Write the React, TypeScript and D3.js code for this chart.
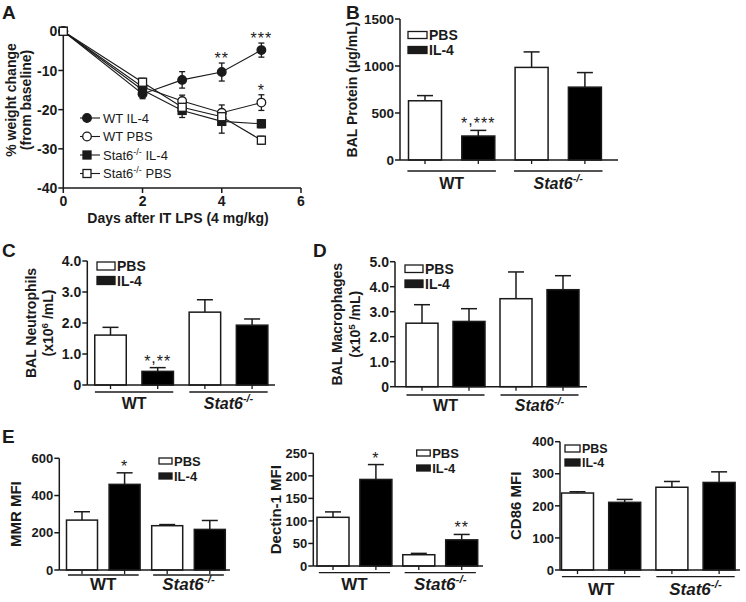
import React from "react";
import * as d3 from "d3";

const FONT = "'Liberation Sans', Arial, Helvetica, sans-serif";
const INK = "#1a1a1a";

// ---------- Panel A data ----------
const days = [0, 2, 3, 4, 5];
const wtIL4 = [0, -16, -12.4, -10.4, -4.8];
const wtIL4Err = [0, 1.2, 2.1, 2.3, 1.8];
const wtPBS = [0, -14.2, -17.8, -20.8, -18.2];
const wtPBSErr = [0, 1.0, 1.5, 2.0, 2.0];
const stat6IL4 = [0, -15, -20.2, -23, -23.6];
const stat6IL4Err = [0, 1.3, 1.8, 3.0, 1.0];
const stat6PBS = [0, -13, -19.4, -21.8, -27.8];
const stat6PBSErr = [0, 1.0, 1.5, 1.5, 1.0];
const wtIL4Stars = ["", "", "", "**", "***"];
const wtPBSStars = ["", "", "", "", "*"];
const weightTicks = [0, -10, -20, -30, -40];
const dayTicks = [0, 2, 4, 6];

// ---------- Bar panels data (WT-PBS, WT-IL-4, Stat6-PBS, Stat6-IL-4) ----------
const barKeys = ["WT-PBS", "WT-IL-4", "Stat6-PBS", "Stat6-IL-4"];
const barFills = ["white", "black", "white", "black"];
const groups = ["WT", "Stat6"];
const treatments = ["PBS", "IL-4"];

const proteinMean = [630, 255, 985, 775];
const proteinErr = [55, 60, 165, 155];
const proteinStars = ["", "*,***", "", ""];
const proteinTicks = [0, 500, 1000, 1500];
const proteinTickLabels = ["0", "500", "1000", "1500"];

const neutroMean = [1.61, 0.44, 2.35, 1.93];
const neutroErr = [0.25, 0.12, 0.4, 0.2];
const neutroStars = ["", "*,**", "", ""];
const neutroTicks = [0, 1, 2, 3, 4];
const neutroTickLabels = ["0", "1.0", "2.0", "3.0", "4.0"];

const macroMean = [2.54, 2.61, 3.52, 3.88];
const macroErr = [0.74, 0.51, 1.07, 0.56];
const macroStars = ["", "", "", ""];
const macroTicks = [0, 1, 2, 3, 4, 5];
const macroTickLabels = ["0", "1.0", "2.0", "3.0", "4.0", "5.0"];

const mmrMean = [268, 460, 238, 218];
const mmrErr = [45, 62, 6, 48];
const mmrStars = ["", "*", "", ""];
const mmrTicks = [0, 200, 400, 600];
const mmrTickLabels = ["0", "200", "400", "600"];

const dectinMean = [108, 192, 25, 58];
const dectinErr = [12, 33, 3, 12];
const dectinStars = ["", "*", "", "**"];
const dectinTicks = [0, 50, 100, 150, 200, 250];
const dectinTickLabels = ["0", "50", "100", "150", "200", "250"];

const cd86Mean = [240, 211, 258, 273];
const cd86Err = [4, 9, 18, 33];
const cd86Stars = ["", "", "", ""];
const cd86Ticks = [0, 100, 200, 300, 400];
const cd86TickLabels = ["0", "100", "200", "300", "400"];

const STAR_FS = 16;

function StarText({ x, y, text }: any) {
  const parts = String(text).split(",");
  return (
    <text x={x} y={y} fontSize={STAR_FS} letterSpacing={1} textAnchor="middle" fill={INK}>
      {parts.map((pt, i) =>
        i === 0 ? (
          <tspan key={i}>{pt}</tspan>
        ) : (
          <React.Fragment key={i}>
            <tspan dy={-4}>,</tspan>
            <tspan dy={4}>{pt}</tspan>
          </React.Fragment>
        )
      )}
    </text>
  );
}

function Stat6Label({ x, y, size, supSize }: any) {
  return (
    <text x={x} y={y} fontSize={size} fontWeight="bold" fontStyle="italic" textAnchor="middle" fill={INK}>
      Stat6
      <tspan dy={-size * 0.4} fontSize={supSize}>-/-</tspan>
    </text>
  );
}

function PanelA() {
  const x = d3.scaleLinear().domain([0, 6]).range([63.3, 301]);
  const y = d3.scaleLinear().domain([-40, 0]).range([188, 31.3]);
  const series = [
    { name: "WT IL-4", values: wtIL4, errs: wtIL4Err, shape: "circle", filled: true, stars: wtIL4Stars },
    { name: "WT PBS", values: wtPBS, errs: wtPBSErr, shape: "circle", filled: false, stars: wtPBSStars },
    { name: "IL-4", values: stat6IL4, errs: stat6IL4Err, shape: "square", filled: true, stars: null, stat6: true },
    { name: "PBS", values: stat6PBS, errs: stat6PBSErr, shape: "square", filled: false, stars: null, stat6: true },
  ];
  const line = d3.line<number>().x((_, i) => x(days[i])).y((d) => y(d));
  const marker = (shape: string, filled: boolean, cx: number, cy: number, key: any) =>
    shape === "circle" ? (
      <circle key={key} cx={cx} cy={cy} r={4.3} fill={filled ? INK : "white"} stroke={INK} strokeWidth={1.3} />
    ) : (
      <rect key={key} x={cx - 4} y={cy - 4} width={8} height={8} fill={filled ? INK : "white"} stroke={INK} strokeWidth={1.3} />
    );
  const [y0, y1] = y.range();
  const [x0, x1] = x.range();
  return (
    <g>
      <text x={2} y={19} fontSize={19} fontWeight="bold" fill={INK}>A</text>
      <line x1={x0} x2={x0} y1={y1} y2={y0} stroke={INK} strokeWidth={1.5} />
      <line x1={x0} x2={x1} y1={y0} y2={y0} stroke={INK} strokeWidth={1.5} />
      {weightTicks.map((t) => (
        <g key={"yt" + t}>
          <line x1={x0 - 5} x2={x0} y1={y(t)} y2={y(t)} stroke={INK} strokeWidth={1.5} />
          <text x={x0 - 6} y={y(t)} dy="0.36em" fontSize={14} fontWeight="bold" textAnchor="end" fill={INK}>{t}</text>
        </g>
      ))}
      {dayTicks.map((t) => (
        <g key={"xt" + t}>
          <line x1={x(t)} x2={x(t)} y1={y0} y2={y0 + 5} stroke={INK} strokeWidth={1.5} />
          <text x={x(t)} y={y0 + 18} fontSize={14} fontWeight="bold" textAnchor="middle" fill={INK}>{t}</text>
        </g>
      ))}
      <text x={178} y={223} fontSize={14} fontWeight="bold" textAnchor="middle" fill={INK}>Days after IT LPS (4 mg/kg)</text>
      <text transform="translate(16,100) rotate(-90)" fontSize={14} fontWeight="bold" textAnchor="middle" fill={INK}>% weight change</text>
      <text transform="translate(31,100) rotate(-90)" fontSize={14} fontWeight="bold" textAnchor="middle" fill={INK}>(from baseline)</text>
      {series.map((s, si) => (
        <path key={"l" + si} d={line(s.values) || ""} fill="none" stroke={INK} strokeWidth={1.1} />
      ))}
      {series.map((s, si) =>
        s.values.map((v, i) =>
          s.errs[i] > 0 ? (
            <g key={"e" + si + "-" + i} stroke={INK} strokeWidth={1.3}>
              <line x1={x(days[i])} x2={x(days[i])} y1={y(v - s.errs[i])} y2={y(v + s.errs[i])} />
              <line x1={x(days[i]) - 3} x2={x(days[i]) + 3} y1={y(v - s.errs[i])} y2={y(v - s.errs[i])} />
              <line x1={x(days[i]) - 3} x2={x(days[i]) + 3} y1={y(v + s.errs[i])} y2={y(v + s.errs[i])} />
            </g>
          ) : null
        )
      )}
      {series.map((s, si) => s.values.map((v, i) => marker(s.shape, s.filled, x(days[i]), y(v), "m" + si + "-" + i)))}
      {series.map((s, si) =>
        s.stars
          ? s.stars.map((st, i) =>
              st ? <StarText key={"s" + si + i} x={x(days[i])} y={y(s.values[i] + s.errs[i]) + 1} text={st} /> : null
            )
          : null
      )}
      {series.map((s, si) => {
        const ly = 118 + si * 18.5;
        return (
          <g key={"lg" + si}>
            <line x1={80} x2={100} y1={ly} y2={ly} stroke={INK} strokeWidth={1.1} />
            {marker(s.shape, s.filled, 87, ly, "lm" + si)}
            {s.stat6 ? (
              <text x={103} y={ly} dy="0.36em" fontSize={13} fill={INK}>
                Stat6<tspan dy={-5} fontSize={9}>-/-</tspan>
                <tspan dy={5}> {s.name}</tspan>
              </text>
            ) : (
              <text x={103} y={ly} dy="0.36em" fontSize={13} fill={INK}>{s.name}</text>
            )}
          </g>
        );
      })}
    </g>
  );
}

function BarPanel(p: any) {
  const y = d3.scaleLinear().domain([0, p.max]).range([p.yBottom, p.yTop]);
  const pad = 1 - p.bw / p.step;
  const x = d3
    .scaleBand<string>()
    .domain(barKeys)
    .range([p.c0 - p.step / 2, p.c0 + (barKeys.length - 0.5) * p.step])
    .paddingInner(pad)
    .paddingOuter(pad / 2);
  const bw = x.bandwidth();
  const cx = (k: string) => (x(k) as number) + bw / 2;
  const capW = p.capW ?? 16;
  const ext = p.step * 0.33;
  const lg = p.legend;
  return (
    <g>
      {p.letter ? (
        <text x={p.letter[0]} y={p.letter[1]} fontSize={19} fontWeight="bold" fill={INK}>{p.letterText}</text>
      ) : null}
      {barKeys.map((k, i) => (
        <g key={k}>
          <line x1={cx(k)} x2={cx(k)} y1={y(p.means[i])} y2={y(p.means[i] + p.errs[i])} stroke={INK} strokeWidth={1.5} />
          <line x1={cx(k) - capW / 2} x2={cx(k) + capW / 2} y1={y(p.means[i] + p.errs[i])} y2={y(p.means[i] + p.errs[i])} stroke={INK} strokeWidth={1.5} />
          <rect x={x(k)} y={y(p.means[i])} width={bw} height={y(0) - y(p.means[i])} fill={barFills[i]} stroke={INK} strokeWidth={1.5} />
          {p.stars[i] ? <StarText x={cx(k)} y={y(p.means[i] + p.errs[i]) - 1} text={p.stars[i]} /> : null}
        </g>
      ))}
      <line x1={p.axisX} x2={p.axisX} y1={p.yTop} y2={p.yBottom} stroke={INK} strokeWidth={1.5} />
      <line x1={p.axisX} x2={p.axisEnd} y1={p.yBottom} y2={p.yBottom} stroke={INK} strokeWidth={1.5} />
      {p.ticks.map((t: number, i: number) => (
        <g key={"t" + t}>
          <line x1={p.axisX - 5} x2={p.axisX} y1={y(t)} y2={y(t)} stroke={INK} strokeWidth={1.5} />
          <text x={p.axisX - 6} y={y(t)} dy="0.36em" fontSize={p.tickFs} fontWeight="bold" textAnchor="end" fill={INK}>{p.tickLabels[i]}</text>
        </g>
      ))}
      {barKeys.map((k) => (
        <line key={"xt" + k} x1={cx(k)} x2={cx(k)} y1={p.yBottom} y2={p.yBottom + 4} stroke={INK} strokeWidth={1.3} />
      ))}
      {groups.map((g, gi) => {
        const a = cx(barKeys[gi * 2]) - ext;
        const b = cx(barKeys[gi * 2 + 1]) + ext;
        const m = (a + b) / 2;
        return (
          <g key={g}>
            <line x1={a} x2={b} y1={p.groupLineY} y2={p.groupLineY} stroke={INK} strokeWidth={1.3} />
            {g === "WT" ? (
              <text x={m} y={p.labelBaseline} fontSize={p.groupFs} fontWeight="bold" textAnchor="middle" fill={INK}>WT</text>
            ) : (
              <Stat6Label x={m} y={p.labelBaseline} size={p.groupFs} supSize={p.groupFs * 0.68} />
            )}
          </g>
        );
      })}
      {treatments.map((t, i) => {
        const ry = lg.y + i * lg.gap;
        return (
          <g key={t}>
            <rect x={lg.x} y={ry} width={lg.w} height={lg.h} fill={i === 0 ? "white" : INK} stroke={INK} strokeWidth={1.3} />
            <text x={lg.x + lg.w + 2} y={ry + lg.h / 2} dy="0.36em" fontSize={lg.fs} fontWeight="bold" fill={INK}>{t}</text>
          </g>
        );
      })}
      {p.yLabels.map((lab: any, i: number) => (
        <text key={"yl" + i} transform={`translate(${p.yLabelX[i]},${(p.yTop + p.yBottom) / 2}) rotate(-90)`} fontSize={p.labelFs} fontWeight="bold" textAnchor="middle" fill={INK}>
          {lab}
        </text>
      ))}
    </g>
  );
}

function Sup({ base, sup, rest, size }: any) {
  return (
    <>
      {base}
      <tspan dy={-size * 0.38} fontSize={size * 0.7}>{sup}</tspan>
      <tspan dy={size * 0.38}>{rest}</tspan>
    </>
  );
}

export default function App() {
  return (
    <svg
      width={746}
      height={602}
      style={{ position: "absolute", left: 0, top: 0, fontFamily: FONT, background: "white" }}
    >
      <rect width={746} height={602} fill="white" />
      <PanelA />
      <BarPanel
        letter={[346, 19]} letterText="B"
        axisX={400} yTop={19} yBottom={160} axisEnd={618} max={1500}
        c0={425} step={53.3} bw={33}
        means={proteinMean} errs={proteinErr} stars={proteinStars}
        ticks={proteinTicks} tickLabels={proteinTickLabels} tickFs={13.5}
        groupLineY={171} labelBaseline={188.5} groupFs={16}
        legend={{ x: 408, y: 31.5, w: 19, h: 7, gap: 15, fs: 14 }}
        yLabels={["BAL Protein (\u03bcg/mL)"]} yLabelX={[357]} labelFs={14}
      />
      <BarPanel
        letter={[2, 257]} letterText="C"
        axisX={87.3} yTop={261} yBottom={385} axisEnd={275} max={4}
        c0={110.5} step={47.2} bw={31.5}
        means={neutroMean} errs={neutroErr} stars={neutroStars}
        ticks={neutroTicks} tickLabels={neutroTickLabels} tickFs={14}
        groupLineY={392} labelBaseline={408.5} groupFs={16}
        legend={{ x: 97, y: 262, w: 18, h: 8, gap: 14.5, fs: 14 }}
        yLabels={["BAL Neutrophils", <Sup key="s" base="(x10" sup="6" rest=" /mL)" size={14} />]}
        yLabelX={[36, 53]} labelFs={14}
      />
      <BarPanel
        letter={[313, 257]} letterText="D"
        axisX={395} yTop={261.7} yBottom={386.7} axisEnd={587} max={5}
        c0={422} step={47} bw={32}
        means={macroMean} errs={macroErr} stars={macroStars}
        ticks={macroTicks} tickLabels={macroTickLabels} tickFs={14}
        groupLineY={395} labelBaseline={411} groupFs={16}
        legend={{ x: 405, y: 265, w: 18, h: 7.5, gap: 15, fs: 14 }}
        yLabels={["BAL Macrophages", <Sup key="s" base="(x10" sup="5" rest=" /mL)" size={14} />]}
        yLabelX={[342, 360]} labelFs={14}
      />
      <BarPanel
        letter={[2, 443]} letterText="E"
        axisX={59.3} yTop={458.3} yBottom={570} axisEnd={230} max={600}
        c0={82} step={42.6} bw={31}
        means={mmrMean} errs={mmrErr} stars={mmrStars}
        ticks={mmrTicks} tickLabels={mmrTickLabels} tickFs={13}
        groupLineY={575} labelBaseline={590} groupFs={17}
        legend={{ x: 159, y: 458, w: 13, h: 6, gap: 15, fs: 13 }}
        yLabels={["MMR MFI"]} yLabelX={[21]} labelFs={15}
      />
      <BarPanel
        axisX={313.3} yTop={453.3} yBottom={566} axisEnd={483} max={250}
        c0={333} step={42.9} bw={32}
        means={dectinMean} errs={dectinErr} stars={dectinStars}
        ticks={dectinTicks} tickLabels={dectinTickLabels} tickFs={13}
        groupLineY={572.7} labelBaseline={590} groupFs={17}
        legend={{ x: 416.7, y: 450, w: 13.5, h: 6, gap: 15, fs: 13 }}
        yLabels={["Dectin-1 MFI"]} yLabelX={[281]} labelFs={15}
      />
      <BarPanel
        axisX={560} yTop={441.7} yBottom={570} axisEnd={740} max={400}
        c0={577.5} step={47.2} bw={32}
        means={cd86Mean} errs={cd86Err} stars={cd86Stars}
        ticks={cd86Ticks} tickLabels={cd86TickLabels} tickFs={13}
        groupLineY={576.7} labelBaseline={595} groupFs={17}
        legend={{ x: 565, y: 445, w: 15, h: 7, gap: 14, fs: 12.5 }}
        yLabels={["CD86 MFI"]} yLabelX={[521]} labelFs={15}
      />
    </svg>
  );
}
